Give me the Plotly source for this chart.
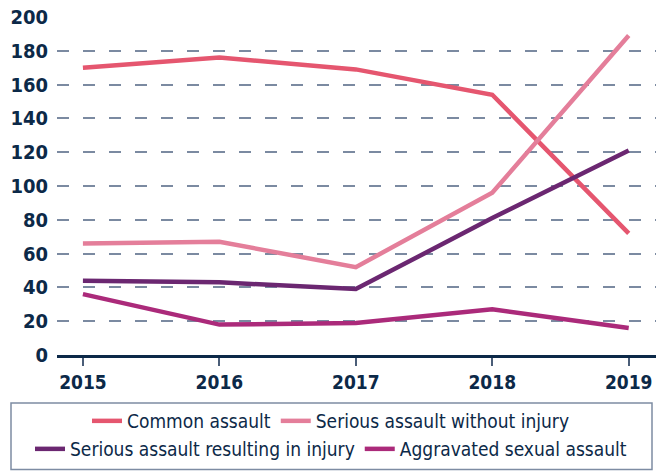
import plotly.graph_objects as go

years = [2015, 2016, 2017, 2018, 2019]
common_assault = [170, 176, 169, 154, 72]
serious_without_injury = [66, 67, 52, 96, 189]
serious_with_injury = [44, 43, 39, 81, 121]
aggravated_sexual = [36, 18, 19, 27, 16]

series = [
    ("Common assault", common_assault, "#e5566f", "legend"),
    ("Serious assault without injury", serious_without_injury, "#e47e9a", "legend"),
    ("Serious assault resulting in injury", serious_with_injury, "#6b2771", "legend2"),
    ("Aggravated sexual assault", aggravated_sexual, "#ab2a7a", "legend2"),
]

NAVY = "#0c2948"
FONT = "DejaVu Sans Condensed"

fig = go.Figure()
for name, vals, col, lg in series:
    fig.add_trace(go.Scatter(
        x=years, y=vals, name=name, mode="lines",
        line=dict(color=col, width=4.5),
        legend=lg,
    ))

W, H = 656, 471
ml, mr, mt, mb = 57, 0, 17, 116
ph = H - mt - mb

def py(pix):
    return (H - mb - pix) / ph

legend_common = dict(
    orientation="h", xanchor="center", x=(331 - ml) / (W - ml - mr),
    yanchor="middle", font=dict(family=FONT, size=19, color=NAVY),
    bgcolor="rgba(0,0,0,0)", itemwidth=30, tracegroupgap=0,
)

fig.update_layout(
    width=W, height=H,
    margin=dict(l=ml, r=mr, t=mt, b=mb),
    paper_bgcolor="white", plot_bgcolor="white",
    font=dict(family=FONT, color=NAVY),
    legend=dict(legend_common, y=py(421)),
    legend2=dict(legend_common, y=py(449)),
    xaxis=dict(
        range=[2014.81, 2019.2], tickvals=years, ticktext=[str(y) for y in years],
        showgrid=False, zeroline=False,
        showline=True, linecolor=NAVY, linewidth=2.5,
        ticks="outside", ticklen=8, tickwidth=1.5, tickcolor="#4a5d78",
        tickfont=dict(family=FONT, size=19, color=NAVY, weight="bold"),
    ),
    yaxis=dict(
        range=[0, 200], tickvals=list(range(0, 201, 20)),
        showgrid=True, gridcolor="#7b8aa1", gridwidth=1.5, griddash="12px,14px",
        zeroline=False, showline=False, ticks="",
        ticklabelstandoff=8,
        tickfont=dict(family=FONT, size=20, color=NAVY, weight="bold"),
    ),
    shapes=[dict(
        type="rect", xref="paper", yref="paper",
        x0=(11 - ml) / (W - ml - mr), x1=(652 - ml) / (W - ml - mr),
        y0=py(469.5), y1=py(403),
        line=dict(color="#7d8ca3", width=1.5), fillcolor="rgba(0,0,0,0)",
    )],
)

fig.write_html("out.html")
